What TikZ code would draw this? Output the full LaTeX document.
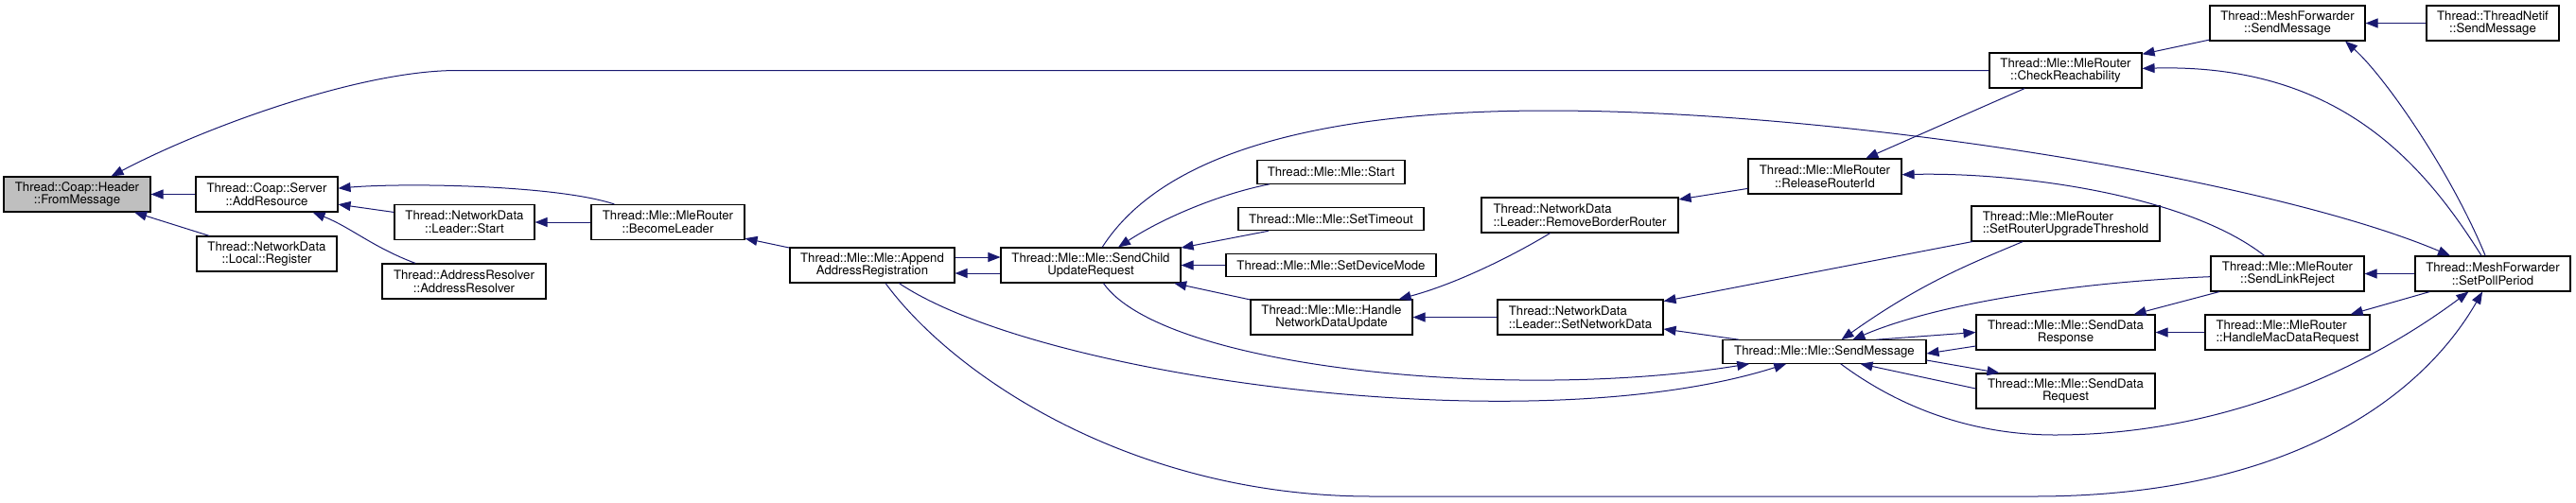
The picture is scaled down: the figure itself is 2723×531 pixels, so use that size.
\documentclass[tikz,border=0pt]{standalone}
\usepackage{fontspec}
\setmainfont{TeX Gyre Heros}
\usepackage{tikz}
\usetikzlibrary{arrows.meta,positioning}
\definecolor{doxyEdge}{HTML}{191970}
\definecolor{doxyRoot}{HTML}{BFBFBF}
\newcommand{\fnfont}{\fontsize{13.2}{13.7}\selectfont}
\tikzset{
    fnBox/.style={
        rectangle,
        draw=black,
        fill=white,
        line width=1.1pt,
        minimum height=37pt,
        inner sep=1pt,
        align=center,
        font=\fnfont
    },
    % Variants
    fnLine/.style={fnBox, minimum height=24.5pt},
    fnRoot/.style={fnBox, fill=doxyRoot},
    fnLeft/.style={fnBox, align=left}
}
\begin{document}
\begin{tikzpicture}[
    x=1pt, y=-1pt,
    arr/.style={-{Triangle[length=13pt,width=10pt]}, line width=1pt, draw=doxyEdge}
]
\useasboundingbox (0,0) rectangle (2723,531);

\node[fnRoot, minimum width=155] (fromMsg) at (81.5,205.5) {Thread::Coap::Header\\::FromMessage};
\node[fnBox, minimum width=150] (addRes) at (282,205.5) {Thread::Coap::Server\\::AddResource};
\node[fnBox, minimum width=148] (localReg) at (282,268.5) {Thread::NetworkData\\::Local::Register};
\node[fnBox, minimum width=148] (leaderStart) at (491,235) {Thread::NetworkData\\::Leader::Start};
\node[fnBox, minimum width=173] (addrRes) at (490.5,297.5) {Thread::AddressResolver\\::AddressResolver};
\node[fnBox, minimum width=162] (becomeLeader) at (706,235) {Thread::Mle::MleRouter\\::BecomeLeader};
\node[fnBox, minimum width=174] (appendAddr) at (922,280.5) {Thread::Mle::Mle::Append\\AddressRegistration};
\node[fnBox, minimum width=190] (sendChild) at (1153,280.5) {Thread::Mle::Mle::SendChild\\UpdateRequest};
\node[fnLine, minimum width=156] (mleStart) at (1407,182) {Thread::Mle::Mle::Start};
\node[fnLine, minimum width=196] (setTimeout) at (1407,231.5) {Thread::Mle::Mle::SetTimeout};
\node[fnLine, minimum width=222] (setDevMode) at (1407,280.5) {Thread::Mle::Mle::SetDeviceMode};
\node[fnBox, minimum width=171] (handleNDU) at (1407.5,335.5) {Thread::Mle::Mle::Handle\\NetworkDataUpdate};
\node[fnLeft, minimum width=208] (removeBR) at (1670,227.5) {Thread::NetworkData\\::Leader::RemoveBorderRouter};
\node[fnLeft, minimum width=175] (setNetData) at (1670.5,335.5) {Thread::NetworkData\\::Leader::SetNetworkData};
\node[fnBox, minimum width=162] (releaseRid) at (1929,186.5) {Thread::Mle::MleRouter\\::ReleaseRouterId};
\node[fnLine, minimum width=215] (sendMsg) at (1928.5,372) {Thread::Mle::Mle::SendMessage};
\node[fnBox, minimum width=161] (checkReach) at (2183.5,74.5) {Thread::Mle::MleRouter\\::CheckReachability};
\node[fnLeft, minimum width=199] (setRUT) at (2183.5,236.5) {Thread::Mle::MleRouter\\::SetRouterUpgradeThreshold};
\node[fnBox, minimum width=189] (sendDataResp) at (2183.5,351.5) {Thread::Mle::Mle::SendData\\Response};
\node[fnBox, minimum width=189] (sendDataReq) at (2183.5,413.5) {Thread::Mle::Mle::SendData\\Request};
\node[fnBox, minimum width=164] (mfSendMsg) at (2418,24.5) {Thread::MeshForwarder\\::SendMessage};
\node[fnBox, minimum width=140] (netifSendMsg) at (2635,24.5) {Thread::ThreadNetif\\::SendMessage};
\node[fnBox, minimum width=162] (sendLinkRej) at (2418,289.5) {Thread::Mle::MleRouter\\::SendLinkReject};
\node[fnLeft, minimum width=174] (handleMac) at (2418,351.5) {Thread::Mle::MleRouter\\::HandleMacDataRequest};
\node[fnBox, minimum width=164] (setPoll) at (2635,289.5) {Thread::MeshForwarder\\::SetPollPeriod};

\draw[arr] (addRes) -- (fromMsg);
\draw[arr] (localReg) -- (fromMsg);
\draw[arr] (checkReach.west) -- (483,74.5) .. controls (380,74.5) and (215,135) .. (fromMsg);
\draw[arr] (becomeLeader) .. controls (590,196) and (430,193) .. (addRes);
\draw[arr] (leaderStart) -- (addRes);
\draw[arr] (addrRes) .. controls (395,262) and (370,240) .. (addRes);
\draw[arr] (becomeLeader) -- (leaderStart);
\draw[arr] (appendAddr) -- (becomeLeader);
\draw[arr] ([yshift=8.5pt]appendAddr.east) -- ([yshift=8.5pt]sendChild.west);
\draw[arr] ([yshift=-8.5pt]sendChild.west) -- ([yshift=-8.5pt]appendAddr.east);
\draw[arr] (mleStart) .. controls (1290,205) and (1230,230) .. (sendChild);
\draw[arr] (setTimeout) -- (sendChild);
\draw[arr] (setDevMode) -- (sendChild);
\draw[arr] (handleNDU) -- (sendChild);
\draw[arr] (sendChild) .. controls (1230,160) and (1400,117) .. (1636,117) .. controls (1950,117) and (2400,190) .. (setPoll);
\draw[arr] (sendChild) .. controls (1230,390) and (1600,425) .. (sendMsg);
\draw[arr] (appendAddr) .. controls (1100,400) and (1620,470) .. (sendMsg);
\draw[arr] (appendAddr) .. controls (1010,400) and (1200,525) .. (1450,525) -- (2150,525) .. controls (2420,525) and (2560,420) .. (setPoll);
\draw[arr] (removeBR) .. controls (1600,270) and (1540,300) .. (handleNDU);
\draw[arr] (setNetData) -- (handleNDU);
\draw[arr] (releaseRid) -- (removeBR);
\draw[arr] (checkReach) -- (releaseRid);
\draw[arr] (sendLinkRej) .. controls (2310,205) and (2130,182) .. (releaseRid);
\draw[arr] (setRUT) -- (setNetData);
\draw[arr] (sendMsg) -- (setNetData);
\draw[arr] (setRUT) .. controls (2080,280) and (2030,300) .. (sendMsg);
\draw[arr] (sendLinkRej) .. controls (2200,298) and (2050,320) .. (sendMsg);
\draw[arr] ([xshift=55pt]sendMsg.north) -- (sendDataResp.west);
\draw[arr] ([yshift=-14.5pt]sendDataResp.west) -- ([yshift=-2pt]sendMsg.east);
\draw[arr] ([yshift=-9pt]sendMsg.east) -- ([xshift=25pt]sendDataReq.north west);
\draw[arr] ([yshift=2.5pt]sendDataReq.west) -- ([xshift=38pt]sendMsg.south);
\draw[arr] (sendMsg) .. controls (2020,440) and (2100,460) .. (2172,460) .. controls (2350,460) and (2500,390) .. (setPoll);
\draw[arr] (setPoll) -- (handleMac);
\draw[arr] (handleMac) -- (sendDataResp);
\draw[arr] (sendLinkRej) -- (sendDataResp);
\draw[arr] (setPoll) -- (sendLinkRej);
\draw[arr] (mfSendMsg) -- (checkReach);
\draw[arr] (setPoll) .. controls (2560,170) and (2470,67) .. (checkReach);
\draw[arr] (netifSendMsg) -- (mfSendMsg);
\draw[arr] (setPoll) .. controls (2590,180) and (2520,80) .. ([xshift=61pt]mfSendMsg.south);
\end{tikzpicture}
\end{document}
